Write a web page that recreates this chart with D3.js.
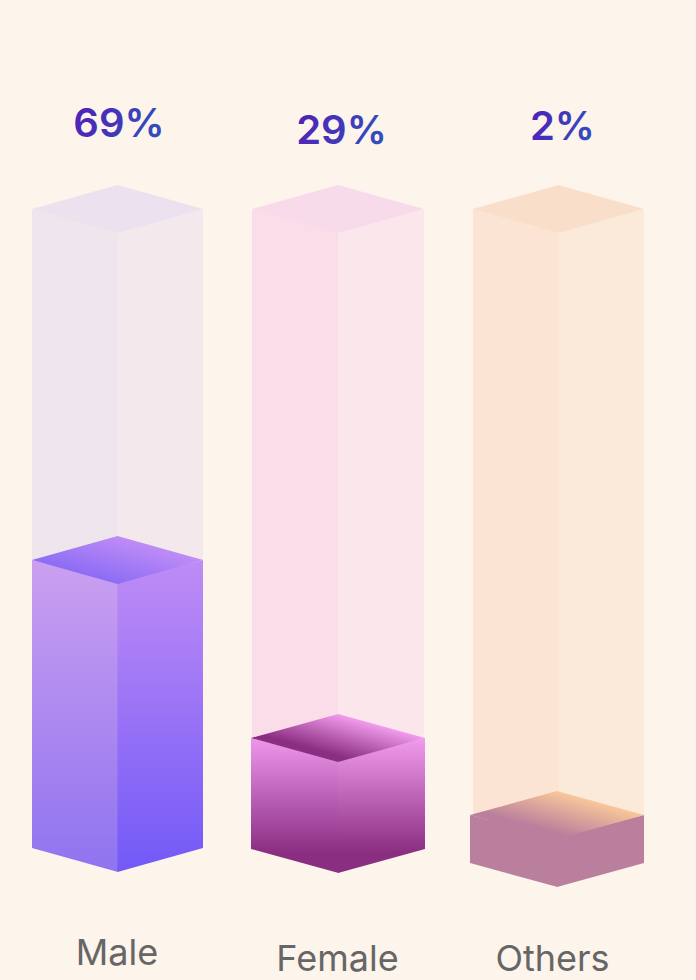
<!DOCTYPE html>
<html><head><meta charset="utf-8">
<script src="https://cdn.jsdelivr.net/npm/d3@7"></script>
<style>html,body{margin:0;padding:0;background:#fdf4ec}svg{display:block}</style></head>
<body><div id="chart"></div>
<script>
const categories = ["Male", "Female", "Others"];
const shares = [69, 29, 2];
const shareLabels = ["69%", "29%", "2%"];
const ghostLeft = ["#eee6ec", "#fadde9", "#fce4d5"];
const ghostRight = ["#f3e9ec", "#fbe6eb", "#fbe9da"];
const ghostTop = ["#ece1ee", "#f8dbeb", "#f9dfc9"];
const leftStops = [["#cba0f0", "#8f73f0"], ["#ee97eb", "#8a2e82"], ["#ba7f9c", "#ba7f9c"]];
const rightStops = [["#bf8cf5", "#7259f7"], ["#f29cee", "#8a2e82"], ["#ba7f9c", "#ba7f9c"]];
const topStops = [["#8c6cf5", "#bf8cf5"], ["#8a2e82", "#f29cee"], ["#ba7f9c", "#f8c79a"]];

const W = 696, H = 980;
const svg = d3.select("#chart").append("svg").attr("width", W).attr("height", H);
svg.append("rect").attr("width", W).attr("height", H).attr("fill", "#fdf4ec");
const defs = svg.append("defs");

function grad(id, stops, x1, y1, x2, y2, start, end) {
  const g = defs.append("linearGradient").attr("id", id)
    .attr("x1", x1).attr("y1", y1).attr("x2", x2).attr("y2", y2);
  g.append("stop").attr("offset", start).attr("stop-color", stops[0]);
  g.append("stop").attr("offset", end).attr("stop-color", stops[1]);
}

// column centres and the (non-linear, decorative) value → fill height mapping
const xCenter = d3.scaleOrdinal().domain(categories).range([117.5, 338, 558.5]);
const ghostHalf = d3.scaleOrdinal().domain(categories).range([85.5, 86, 85.5]);
const fillHalf = d3.scaleOrdinal().domain(categories).range([85.5, 87, 87]);
const fillShift = d3.scaleOrdinal().domain(categories).range([0, 0, -1.5]);
const bottomY = d3.scaleOrdinal().domain(categories).range([848, 849, 863]);
const heightOf = d3.scaleLinear().domain([2, 29, 69]).range([48, 111, 288]);
const labelX = d3.scaleOrdinal().domain(categories).range([117, 337.5, 552.5]);
const labelY = d3.scaleOrdinal().domain(categories).range([965, 971, 971]);
const pctX = d3.scaleOrdinal().domain(categories).range([119, 341.5, 562.5]);
const pctY = d3.scaleOrdinal().domain(categories).range([137, 144, 140]);

const DY = 24;
const line = d3.line();

// Faces overlap slightly under each other so no pale seam shows between them.
function prism(g, cx, half, topY, botY, fl, fr, ft) {
  const L = cx - half, R = cx + half, O = 1.5;
  g.append("path").attr("d", line([[L, topY], [cx + 0.6, topY + DY - O], [cx + 0.6, botY + DY], [L, botY]]) + "Z").attr("fill", fl);
  g.append("path").attr("d", line([[cx, topY + DY - O], [R, topY], [R, botY], [cx, botY + DY]]) + "Z").attr("fill", fr);
  g.append("path").attr("d", line([[L, topY], [cx, topY - DY], [R, topY], [cx, topY + DY]]) + "Z").attr("fill", ft);
}

categories.forEach((c, i) => {
  const cx = xCenter(c);
  const g = svg.append("g").attr("class", "bar");
  const bot = bottomY(c), top = bot - heightOf(shares[i]);
  prism(g, cx, ghostHalf(c), 209, top, ghostLeft[i], ghostRight[i], ghostTop[i]);

  const end = i === 1 ? 0.85 : 1;
  grad("l" + i, leftStops[i], 0, 0, 0, 1, 0, end);
  grad("r" + i, rightStops[i], 0, 0, 0, 1, 0, end);
  grad("t" + i, topStops[i], 0.25, 0.75, 0.75, 0.25, i === 0 ? 0 : 0.12, 1);
  prism(g, cx + fillShift(c), fillHalf(c), top, bot, `url(#l${i})`, `url(#r${i})`, `url(#t${i})`);

  grad("p" + i, ["#5022b8", "#3050bd"], 0, 0.4, 1, 0.6, 0, 1);
  svg.append("text").attr("x", pctX(c)).attr("y", pctY(c)).attr("text-anchor", "middle")
    .attr("font-family", "Inter").attr("font-weight", 600).attr("font-size", 40)
    .attr("fill", `url(#p${i})`).text(shareLabels[i]);
  svg.append("text").attr("x", labelX(c)).attr("y", labelY(c)).attr("text-anchor", "middle")
    .attr("font-family", "Inter").attr("font-weight", 400).attr("font-size", 36)
    .attr("fill", "#666666").text(c);
});
</script></body></html>
